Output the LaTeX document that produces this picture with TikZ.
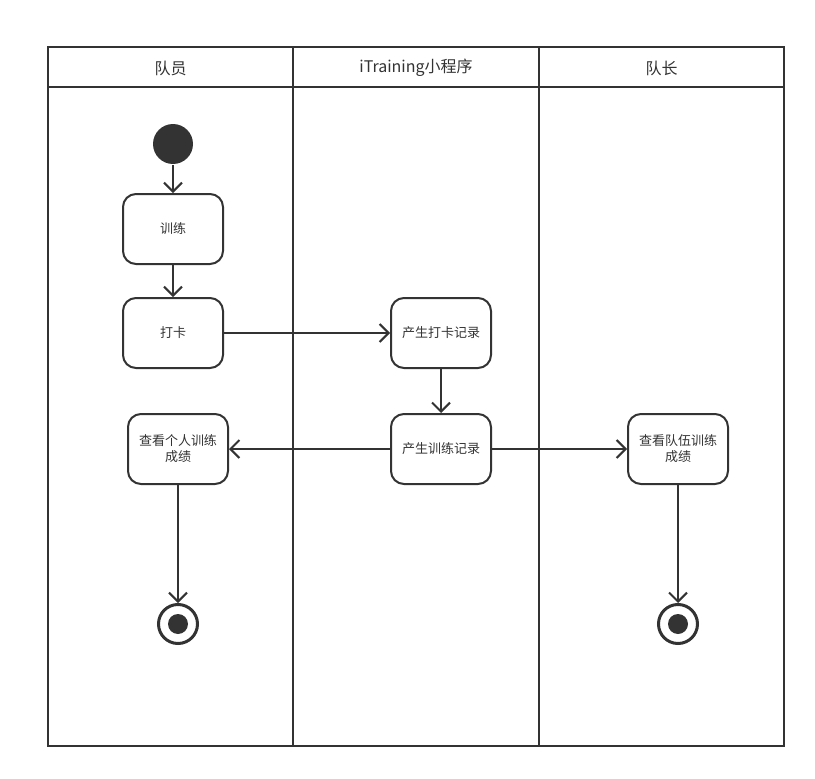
\documentclass[tikz,border=0pt]{standalone}
\usepackage{fontspec}
\setmainfont{Noto Sans CJK SC}
\usetikzlibrary{arrows.meta}
\definecolor{ink}{HTML}{333333}
\begin{document}
\begin{tikzpicture}[x=1pt,y=-1pt,
  line width=2pt, draw=ink,
  act/.style={draw=ink, line width=2pt, rounded corners=13pt, minimum width=100pt, minimum height=70pt, align=center, font=\fontsize{13pt}{16pt}\selectfont, text=ink, inner sep=2pt},
  hdr/.style={font=\fontsize{16pt}{19pt}\selectfont, text=ink},
  flow/.style={-{Straight Barb[length=9pt,width=18pt,line width=2pt]}, line width=2pt, draw=ink}]
\useasboundingbox (0,0) rectangle (815,779);
% frame and lanes
\draw[ink] (48,47) rectangle (784,746);
\draw[ink] (48,87) -- (784,87);
\draw[ink] (293,47) -- (293,746);
\draw[ink] (539,47) -- (539,746);
\node[hdr] (h1) at (170.5,68) {队员};
\node[hdr] (h2) at (416,68) {iTraining小程序};
\node[hdr] (h3) at (661.5,68) {队长};
% nodes
\node[circle, fill=ink, minimum size=40pt, inner sep=0pt] (start) at (173,144) {};
\node[act] (train) at (173,229) {训练};
\node[act] (punch) at (173,333) {打卡};
\node[act] (rec1) at (441,333) {产生打卡记录};
\node[act] (rec2) at (441,449) {产生训练记录};
\node[act] (mine) at (178,449) {查看个人训练\\成绩};
\node[act] (team) at (678,449) {查看队伍训练\\成绩};
\node[circle, draw=ink, line width=3pt, minimum size=39pt, inner sep=0pt] (end1) at (178,624) {};
\node[circle, fill=ink, minimum size=20pt, inner sep=0pt] at (end1.center) {};
\node[circle, draw=ink, line width=3pt, minimum size=39pt, inner sep=0pt] (end2) at (678,624) {};
\node[circle, fill=ink, minimum size=20pt, inner sep=0pt] at (end2.center) {};
% flows
\draw[flow] (start) -- (train);
\draw[flow] (train) -- (punch);
\draw[flow] (punch) -- (rec1);
\draw[flow] (rec1) -- (rec2);
\draw[flow] (rec2) -- (mine);
\draw[flow] (rec2) -- (team);
\draw[flow] (mine) -- (end1);
\draw[flow] (team) -- (end2);
\end{tikzpicture}
\end{document}
